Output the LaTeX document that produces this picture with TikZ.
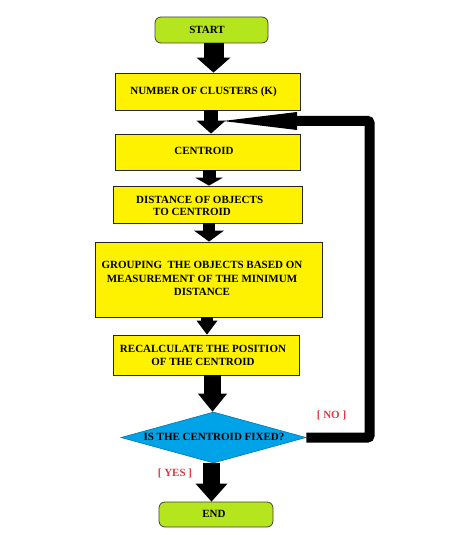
\documentclass[tikz,border=0pt]{standalone}
\usepackage{fontspec}
\setmainfont{Liberation Serif}
\usetikzlibrary{shapes.geometric,arrows.meta,calc}
\definecolor{boxyellow}{RGB}{255,242,0}
\definecolor{termgreen}{RGB}{181,230,29}
\definecolor{decblue}{RGB}{0,162,232}
\definecolor{labelred}{RGB}{222,58,66}
\tikzset{
  procbox/.style={draw=black!85, line width=0.8bp, fill=boxyellow, inner sep=0pt},
  termbox/.style={draw=black!75, line width=0.8bp, fill=termgreen, rounded corners=6bp, inner sep=0pt},
  decbox/.style={diamond, draw=decblue!75!black, line width=0.6bp, fill=decblue, inner sep=0pt},
  txt/.style={font=\bfseries\fontsize{11bp}{13bp}\selectfont, inner sep=0pt, text height=7.3bp, text depth=0pt},
  mtxt/.style={font=\bfseries\fontsize{11bp}{13bp}\selectfont, inner sep=0pt},
  lbl/.style={txt, text=labelred},
  bigarrow/.style n args={3}{line width=#1, -{Triangle[width=#2,length=#3,line width=0pt]}},
  feedback/.style={line width=10bp, -{Triangle[width=18bp,length=74bp,line width=0pt]}, rounded corners=2bp}
}
\begin{document}
\begin{tikzpicture}[x=1bp,y=-1bp]
\useasboundingbox (0,0) rectangle (473,535);
% boxes
\node[termbox, minimum width=113bp, minimum height=26bp] (start) at (211.5,30) {};
\node[txt] (starttxt) at (207,30) {START};
\node[procbox, minimum width=185bp, minimum height=37bp] (num) at (207.5,91.5) {};
\node[txt] (numtxt) at (203.5,91) {NUMBER OF CLUSTERS (K)};
\node[procbox, minimum width=185bp, minimum height=36bp] (cent) at (207.5,152) {};
\node[txt] (centtxt) at (204,150.5) {CENTROID};
\node[procbox, minimum width=189bp, minimum height=37bp] (dist) at (207.5,204.5) {};
\node[mtxt, align=left, anchor=west] (disttxt) at (136,206) {DISTANCE OF OBJECTS\\[-1bp]\hspace*{17bp}TO CENTROID};
\node[procbox, minimum width=227bp, minimum height=75bp] (group) at (208.5,279.5) {};
\node[mtxt, align=center] (grouptxt) at (202,278.5) {GROUPING\ \ THE OBJECTS BASED ON\\[0.5bp]MEASUREMENT OF THE MINIMUM\\[0.5bp]DISTANCE};
\node[procbox, minimum width=186bp, minimum height=40bp] (recalc) at (206,355) {};
\node[mtxt, align=center] (recalctxt) at (203,355.5) {RECALCULATE THE POSITION\\OF THE CENTROID};
\node[decbox, minimum width=185bp, minimum height=51bp] (dec) at (213.5,437.5) {};
\node[txt] (dectxt) at (214,437) {IS THE CENTROID FIXED?};
\node[termbox, minimum width=114bp, minimum height=25bp] (end) at (216,514.5) {};
\node[txt] (endtxt) at (214,514) {END};
\node[lbl] (no) at (331.5,415) {[ NO ]};
\node[lbl] (yes) at (175,473) {[ YES ]};
% arrows
\coordinate (a1) at ($(start.south)+(2,0)$);
\draw[bigarrow={20bp}{34bp}{15bp}] (a1) -- (a1 |- num.north);
\coordinate (a2) at ($(num.south)+(3.5,0)$);
\draw[bigarrow={14bp}{29bp}{13bp}] (a2) -- (a2 |- cent.north);
\coordinate (a3) at ($(cent.south)+(1.5,0)$);
\draw[bigarrow={13bp}{28bp}{8bp}] (a3) -- (a3 |- dist.north);
\coordinate (a4) at ($(dist.south)+(1.5,0)$);
\draw[bigarrow={12bp}{30bp}{11bp}] (a4) -- (a4 |- group.north);
\coordinate (a5) at ($(group.south)+(-1.5,0)$);
\draw[bigarrow={12bp}{21bp}{14bp}] (a5) -- (a5 |- recalc.north);
\coordinate (a6) at ($(recalc.south)+(6.5,0)$);
\draw[bigarrow={17bp}{29bp}{18bp}] (a6) -- (a6 |- dec.north);
\coordinate (a7) at ($(dec.south)+(-2,0)$);
\draw[bigarrow={17bp}{32bp}{18bp}] (a7) -- (a7 |- end.north);
% feedback loop
\coordinate (fbcorner) at (369.5,121);
\coordinate (fbtip) at (223,121);
\draw[feedback] (dec.east) -| (fbcorner) -- (fbtip);
\end{tikzpicture}
\end{document}
